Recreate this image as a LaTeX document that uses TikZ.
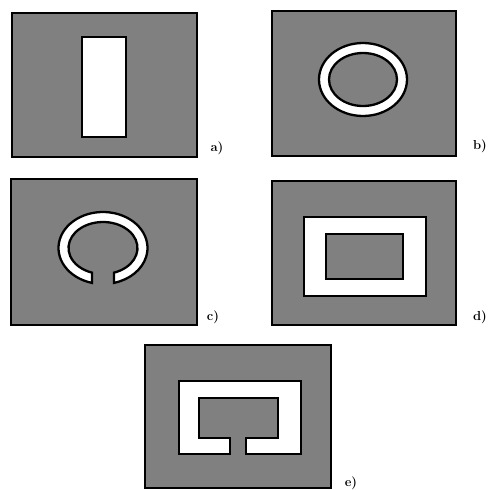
\documentclass[tikz,border=0pt]{standalone}
\definecolor{panelgray}{RGB}{128,128,128}
\begin{document}
\begin{tikzpicture}[x=1pt,y=-1pt,
  panel/.style={fill=panelgray, draw=black, line width=2.6pt},
  hole/.style={fill=white, draw=black, line width=2.3pt},
  inner/.style={fill=panelgray, draw=black, line width=2.3pt},
  lbl/.style={font=\bfseries\fontsize{13}{15}\selectfont, inner sep=0pt}]
\useasboundingbox (0,0) rectangle (493,490);
% a)
\draw[panel] (12,13) rectangle (197,157);
\draw[hole] (82,37) rectangle (126,137);
\node[lbl] (la) at (217,148) {a)};
% b)
\draw[panel] (272,11) rectangle (456,156);
\draw[hole] (363,79.5) ellipse [x radius=44, y radius=36.5];
\draw[inner] (363,79.5) ellipse [x radius=34, y radius=26.5];
\node[lbl] (lb) at (480,146) {b)};
% c)
\draw[panel] (11,179) rectangle (197,325);
\coordinate (cc) at (103,248);
\draw[hole] ([shift={(104.3:44.5 and 36)}]cc)
  arc[start angle=104.3, end angle=435.7, x radius=44.5, y radius=36]
  -- ([shift={(431.4:34.5 and 26)}]cc)
  arc[start angle=431.4, end angle=108.6, x radius=34.5, y radius=26]
  -- cycle;
\node[lbl] (lc) at (213,317) {c)};
% d)
\draw[panel] (272,181) rectangle (456,325);
\draw[hole] (304,217) rectangle (426,296);
\draw[inner] (326,234) rectangle (403,279);
\node[lbl] (ld) at (480,317) {d)};
% e)
\draw[panel] (145,345) rectangle (331,488);
\draw[hole] (230,454) -- (179,454) -- (179,381) -- (301,381) -- (301,454)
  -- (246,454) -- (246,438) -- (278,438) -- (278,398) -- (199,398)
  -- (199,438) -- (230,438) -- cycle;
\node[lbl] (le) at (351,483) {e)};
\end{tikzpicture}
\end{document}
